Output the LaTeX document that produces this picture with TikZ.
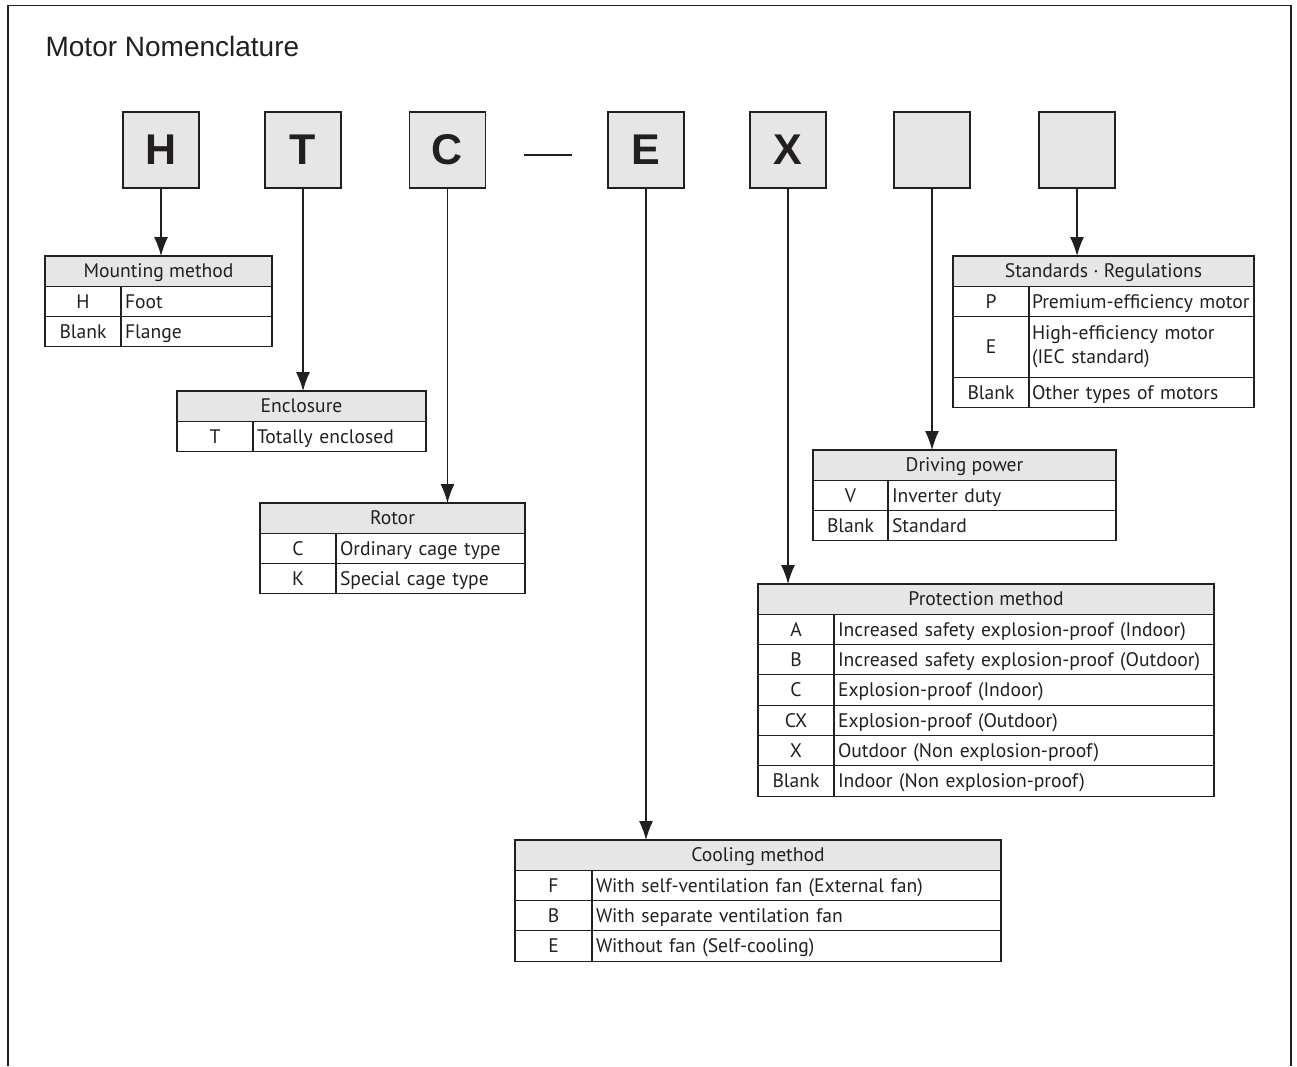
\documentclass[tikz,border=0pt]{standalone}
\usepackage{fontspec}
\setmainfont{Liberation Sans}
\newfontfamily\tabfont{PT Sans}
\usetikzlibrary{arrows.meta}
\definecolor{ink}{HTML}{231F20}
\definecolor{boxgray}{HTML}{E6E6E6}

\begin{document}
\begin{tikzpicture}[x=1pt, y=-1pt, ink, line width=1.2pt,
	letter/.style={draw=ink, fill=boxgray, minimum size=76pt, inner sep=0pt, font=\fontsize{43}{43}\selectfont\bfseries},
	cell/.style={draw=ink, line width=1.1pt, inner sep=0pt, outer sep=0pt, anchor=north west, minimum height=30.3pt, text height=15.5pt, text depth=2pt, font=\tabfont\fontsize{19.6}{24}\selectfont},
	hdr/.style={cell, fill=boxgray, minimum width=#1},
	code/.style={cell, minimum width=#1},
	desc/.style={cell, text width=#1, inner xsep=4pt, align=left},
	arr/.style={-{Latex[length=19pt,width=14pt]}}]
	\useasboundingbox (0,0) rectangle (1297,1066);
	\draw[line width=1.6pt] (8,1066) -- (8,5.5) -- (1291,5.5) -- (1291,1066);
	\node[anchor=base west, inner sep=0pt, font=\fontsize{28}{28}\selectfont] (title) at (45,56) {Motor Nomenclature};

	% code letters
	\node[letter] (h) at (161,150) {H};
	\node[letter] (t) at (303,150) {T};
	\node[letter] (c) at (447.5,150) {C};
	\node[letter] (e) at (646,150) {E};
	\node[letter] (x) at (788,150) {X};
	\node[letter] (b1) at (932,150) {};
	\node[letter] (b2) at (1077,150) {};
	\coordinate (dashL) at (524,155);
	\coordinate (dashR) at (572,155);
	\draw[line width=2.6pt] (dashL) -- (dashR);

	% mounting method
	\node[hdr=227] (mount) at (45,256) {Mounting method};
	\node[code=76] (mountH) at (mount.south west) {H};
	\node[desc=143] (mountHd) at (mountH.north east) {Foot};
	\node[code=76] (mountB) at (mountH.south west) {Blank};
	\node[desc=143] (mountBd) at (mountB.north east) {Flange};

	% enclosure
	\node[hdr=249] (encl) at (177,391) {Enclosure};
	\node[code=76] (enclT) at (encl.south west) {T};
	\node[desc=165] (enclTd) at (enclT.north east) {Totally enclosed};

	% rotor
	\node[hdr=265] (rotor) at (260,503) {Rotor};
	\node[code=76] (rotorC) at (rotor.south west) {C};
	\node[desc=181] (rotorCd) at (rotorC.north east) {Ordinary cage type};
	\node[code=76] (rotorK) at (rotorC.south west) {K};
	\node[desc=181] (rotorKd) at (rotorK.north east) {Special cage type};

	% standards / regulations
	\node[hdr=301] (std) at (953,256) {Standards · Regulations};
	\node[code=76] (stdP) at (std.south west) {P};
	\node[desc=219, inner xsep=3pt] (stdPd) at (stdP.north east) {\mbox{Premium-efficiency motor}};
	\node[code=76, minimum height=60.6pt] (stdE) at (stdP.south west) {E};
	\node[desc=219, inner xsep=3pt, minimum height=60.6pt, text height={}, text depth={}] (stdEd) at (stdE.north east) {High-efficiency motor\\(IEC standard)};
	\node[code=76] (stdB) at (stdE.south west) {Blank};
	\node[desc=219, inner xsep=3pt] (stdBd) at (stdB.north east) {Other types of motors};

	% driving power
	\node[hdr=303] (drive) at (813,450) {Driving power};
	\node[code=75] (driveV) at (drive.south west) {V};
	\node[desc=220] (driveVd) at (driveV.north east) {Inverter duty};
	\node[code=75] (driveB) at (driveV.south west) {Blank};
	\node[desc=220] (driveBd) at (driveB.north east) {Standard};

	% protection method
	\node[hdr=456] (prot) at (758,584) {Protection method};
	\node[code=76] (protA) at (prot.south west) {A};
	\node[desc=372] (protAd) at (protA.north east) {Increased safety explosion-proof (Indoor)};
	\node[code=76] (protB) at (protA.south west) {B};
	\node[desc=372] (protBd) at (protB.north east) {Increased safety explosion-proof (Outdoor)};
	\node[code=76] (protC) at (protB.south west) {C};
	\node[desc=372] (protCd) at (protC.north east) {Explosion-proof (Indoor)};
	\node[code=76] (protCX) at (protC.south west) {CX};
	\node[desc=372] (protCXd) at (protCX.north east) {Explosion-proof (Outdoor)};
	\node[code=76] (protX) at (protCX.south west) {X};
	\node[desc=372] (protXd) at (protX.north east) {Outdoor (Non explosion-proof)};
	\node[code=76] (protN) at (protX.south west) {Blank};
	\node[desc=372] (protNd) at (protN.north east) {Indoor (Non explosion-proof)};

	% cooling method
	\node[hdr=486] (cool) at (515,840) {Cooling method};
	\node[code=77] (coolF) at (cool.south west) {F};
	\node[desc=401] (coolFd) at (coolF.north east) {With self-ventilation fan (External fan)};
	\node[code=77] (coolB) at (coolF.south west) {B};
	\node[desc=401] (coolBd) at (coolB.north east) {With separate ventilation fan};
	\node[code=77] (coolE) at (coolB.south west) {E};
	\node[desc=401] (coolEd) at (coolE.north east) {Without fan (Self-cooling)};

	% arrows
	\draw[arr] (h.south) -- (h.south |- mount.north);
	\draw[arr] (t.south) -- (t.south |- encl.north);
	\draw[arr] (c.south) -- (c.south |- rotor.north);
	\draw[arr] (e.south) -- (e.south |- cool.north);
	\draw[arr] (x.south) -- (x.south |- prot.north);
	\draw[arr] (b1.south) -- (b1.south |- drive.north);
	\draw[arr] (b2.south) -- (b2.south |- std.north);
\end{tikzpicture}
\end{document}
